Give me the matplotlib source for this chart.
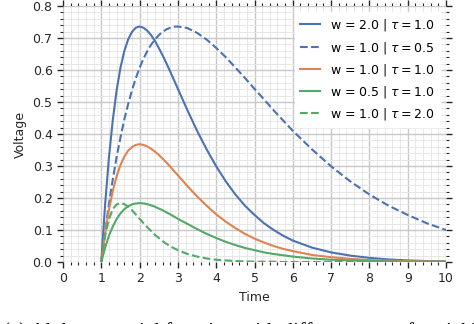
import matplotlib
matplotlib.use("Agg")
import matplotlib.pyplot as plt
from matplotlib.ticker import MultipleLocator

# time samples and voltage
time = [1.0, 1.1, 1.2, 1.3, 1.4, 1.5, 1.6, 1.7, 1.8, 1.9, 2.0, 2.1, 2.2, 2.3,
        2.4, 2.5, 2.6, 2.7, 2.8, 2.9, 3.0, 3.25, 3.5, 3.75, 4.0, 4.25, 4.5,
        4.75, 5.0, 5.25, 5.5, 5.75, 6.0, 6.5, 7.0, 7.5, 8.0, 8.5, 9.0, 9.5,
        10.0]

v_w2_t1 = [0, .181, .327, .444, .536, .607, .659, .695, .719, .732, .736, .732,
           .723, .709, .691, .669, .646, .621, .595, .568, .541, .474, .410,
           .352, .299, .252, .211, .176, .147, .121, .100, .082, .067, .045,
           .030, .020, .013, .008, .005, .003, .002]
v_w1_t05 = [0, .095, .181, .258, .328, .389, .445, .493, .536, .574, .607, .635,
            .659, .679, .695, .709, .719, .727, .732, .735, .736, .731, .716,
            .695, .669, .640, .608, .575, .541, .508, .474, .442, .410, .352,
            .299, .252, .211, .176, .147, .121, .100]
v_w1_t1 = [0, .090, .164, .222, .268, .303, .329, .348, .359, .366, .368, .366,
           .361, .354, .345, .335, .323, .311, .298, .284, .271, .237, .205,
           .176, .149, .126, .106, .088, .073, .061, .050, .041, .034, .022,
           .015, .010, .006, .004, .003, .002, .001]
v_w05_t1 = [0, .045, .082, .111, .134, .152, .165, .174, .180, .183, .184, .183,
            .181, .177, .173, .167, .162, .155, .149, .142, .135, .119, .103,
            .088, .075, .063, .053, .044, .037, .030, .025, .021, .017, .011,
            .007, .005, .003, .002, .001, .001, .001]
v_w1_t2 = [0, .082, .134, .165, .180, .184, .181, .173, .162, .149, .135, .122,
           .109, .097, .085, .075, .065, .057, .049, .043, .037, .025, .017,
           .011, .007, .005, .003, .002, .001, .001, .001, 0, 0, 0, 0, 0, 0, 0,
           0, 0, 0]

labels = [r"w = 2.0 | $\tau = 1.0$", r"w = 1.0 | $\tau = 0.5$",
          r"w = 1.0 | $\tau = 1.0$", r"w = 0.5 | $\tau = 1.0$",
          r"w = 1.0 | $\tau = 2.0$"]

blue, orange, green = "#4C72B0", "#DD8452", "#55A868"

fig = plt.figure(figsize=(4.74, 3.24), dpi=100)
ax = fig.add_axes([63 / 474, 62 / 324, 383 / 474, 256 / 324])

ax.plot(time, v_w2_t1, color=blue, lw=1.5, label=labels[0])
ax.plot(time, v_w1_t05, color=blue, lw=1.5, ls="--", label=labels[1])
ax.plot(time, v_w1_t1, color=orange, lw=1.5, label=labels[2])
ax.plot(time, v_w05_t1, color=green, lw=1.5, label=labels[3])
ax.plot(time, v_w1_t2, color=green, lw=1.5, ls="--", label=labels[4])

ax.set_xlim(0, 10)
ax.set_ylim(0, 0.8)
ax.xaxis.set_major_locator(MultipleLocator(1))
ax.xaxis.set_minor_locator(MultipleLocator(0.2))
ax.yaxis.set_major_locator(MultipleLocator(0.1))
ax.yaxis.set_minor_locator(MultipleLocator(0.02))
ax.yaxis.set_major_formatter(plt.FormatStrFormatter("%.1f"))

ax.grid(which="major", color="#c8c8c8", lw=1.0)
ax.grid(which="minor", color="#e8e8e8", lw=0.7)
ax.set_axisbelow(True)
for s in ax.spines.values():
    s.set_visible(False)
ax.tick_params(which="both", direction="out", color="#262626",
               top=True, right=True, labelsize=9, labelcolor="#262626")
ax.tick_params(which="major", length=4, width=1.0)
ax.tick_params(which="minor", length=2.5, width=0.8)

ax.set_xlabel("Time", fontsize=9, color="#262626", labelpad=4)
ax.set_ylabel("Voltage", fontsize=9, color="#262626", labelpad=4)

leg = ax.legend(loc="upper right", fontsize=9, handlelength=1.6,
                frameon=True, framealpha=1, edgecolor="white", fancybox=False)

# figure caption, cut off by the bottom edge as in the source
fig.text(0.006, -0.04, "(a) Alpha potential function with different sets of variables",
         family="Liberation Serif", fontsize=15, va="baseline", ha="left")

fig.savefig("out.png", dpi=100)
